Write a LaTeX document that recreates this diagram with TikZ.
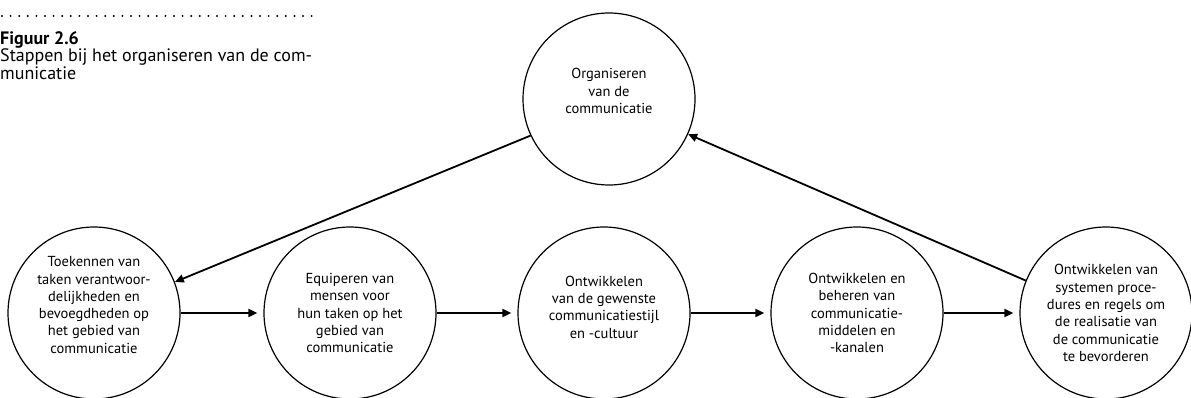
\documentclass[tikz,border=0pt]{standalone}
\usepackage{fontspec}
\setmainfont{PT Sans}
\usetikzlibrary{arrows.meta}
\begin{document}
\begin{tikzpicture}[x=1pt,y=-1pt,
  stap/.style={circle, draw, line width=1.2pt, minimum size=172pt, inner sep=0pt},
  staptekst/.style={inner sep=0pt, align=center, font=\fontsize{14.5}{17.3}\selectfont},
  pijl/.style={line width=1.8pt, -{Triangle[length=9pt,width=8pt]}}]
\useasboundingbox (0,0) rectangle (1191,398);

% caption block
\draw[line width=2.2pt, line cap=round, dash pattern=on 0pt off 8.6pt] (2,16) -- (318,16);
\node[anchor=base west, inner sep=0pt, font=\fontsize{18}{17.5}\selectfont\bfseries] (fig) at (0,45) {Figuur 2.6};
\node[anchor=base west, inner sep=0pt, font=\fontsize{18}{17.5}\selectfont] (cap1) at (0,62)
  {Stappen bij het organiseren van de com-};
\node[anchor=base west, inner sep=0pt, font=\fontsize{18}{17.5}\selectfont] (cap2) at (0,79.5)
  {municatie};

% steps
\node[stap] (top) at (609,99) {};
\node[stap] (s1) at (94,313) {};
\node[stap] (s2) at (350,313) {};
\node[stap] (s3) at (604,313) {};
\node[stap] (s4) at (857,313) {};
\node[stap] (s5) at (1106,313) {};

% texts (yshift is in page units: positive moves up)
\node[staptekst] (topt) at ([yshift=8pt]top.center) {Organiseren\\van de\\communicatie};
\node[staptekst] (s1t) at ([yshift=8pt]s1.center) {Toekennen van\\taken verantwoor-\\delijkheden en\\bevoegdheden op\\het gebied van\\communicatie};
\node[staptekst] (s2t) at (s2.center) {Equiperen van\\mensen voor\\hun taken op het\\gebied van\\communicatie};
\node[staptekst] (s3t) at ([yshift=6pt]s3.center) {Ontwikkelen\\van de gewenste\\communicatiestijl\\en -cultuur};
\node[staptekst] (s4t) at (s4.center) {Ontwikkelen en\\beheren van\\communicatie-\\middelen en\\-kanalen};
\node[staptekst] (s5t) at (s5.center) {Ontwikkelen van\\systemen proce-\\dures en regels om\\de realisatie van\\de communicatie\\te bevorderen};

% connectors
\draw[pijl] (top.205) -- (s1.21);
\draw[pijl] (s5.158) -- (top.336);
\draw[pijl] (s1.east) -- ([xshift=-6pt]s2.west);
\draw[pijl] (s2.east) -- ([xshift=-6pt]s3.west);
\draw[pijl] (s3.east) -- ([xshift=-6pt]s4.west);
\draw[pijl] (s4.east) -- ([xshift=-6pt]s5.west);
\end{tikzpicture}
\end{document}
